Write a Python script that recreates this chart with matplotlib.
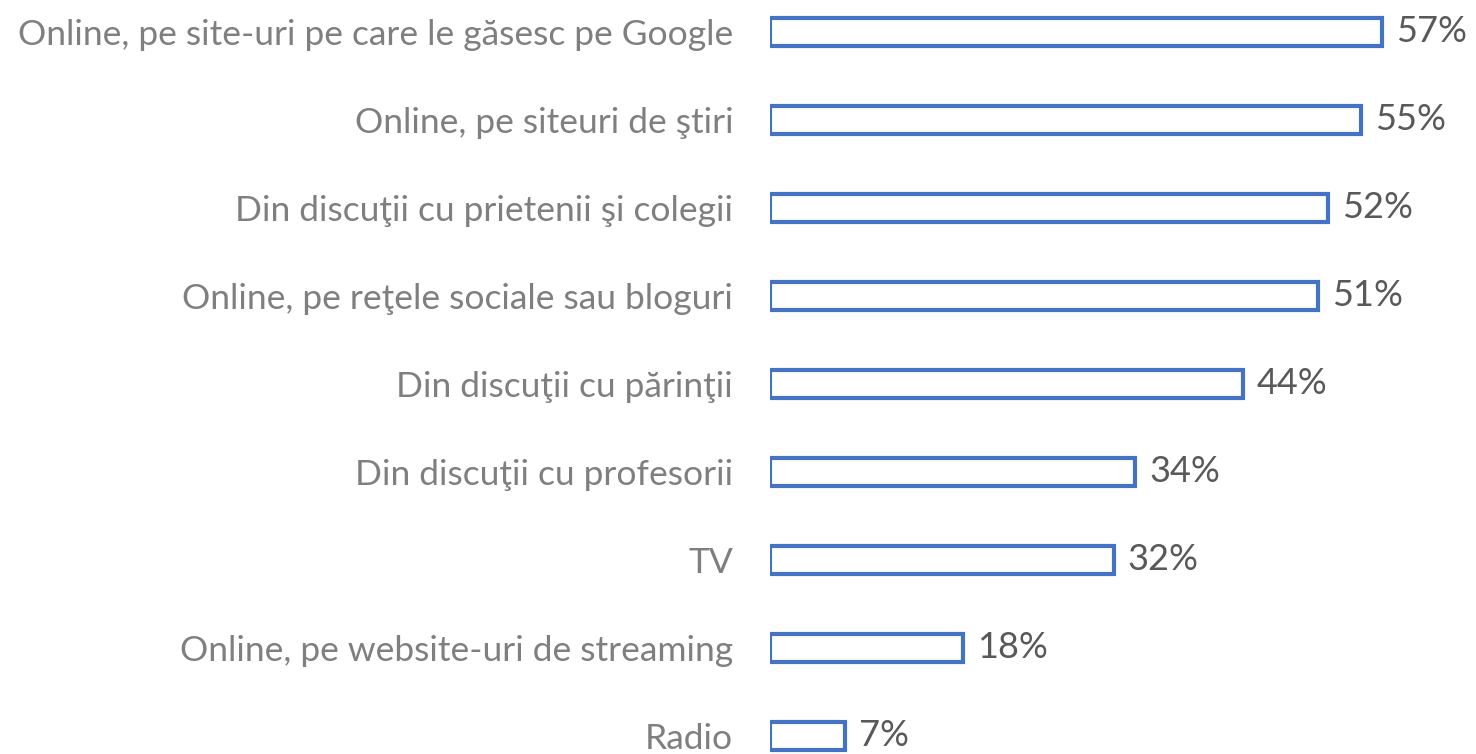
import matplotlib
matplotlib.use("Agg")
import matplotlib.pyplot as plt
from matplotlib.transforms import offset_copy

categories = [
    "Online, pe site-uri pe care le găsesc pe Google",
    "Online, pe siteuri de ştiri",
    "Din discuţii cu prietenii şi colegii",
    "Online, pe reţele sociale sau bloguri",
    "Din discuţii cu părinţii",
    "Din discuţii cu profesorii",
    "TV",
    "Online, pe website-uri de streaming",
    "Radio",
]
values = [57, 55, 52, 51, 44, 34, 32, 18, 7]
value_labels = ["57%", "55%", "52%", "51%", "44%", "34%", "32%", "18%", "7%"]

plt.rcParams['font.family'] = ['Lato', 'DejaVu Sans']

W, H, DPI = 1476, 754, 100
fig = plt.figure(figsize=(W / DPI, H / DPI), dpi=DPI)
ax = fig.add_axes([770 / W, 0, 1 - 770 / W, 1])

ypos = list(range(len(categories)))
ax.barh(ypos, values, height=0.32, facecolor="white", edgecolor="#4472C4",
        linewidth=3.0)

ax.set_xlim(0, 706 / 10.74)
ax.set_ylim(8 + 18 / 88, -32 / 88)

ax.set_yticks(ypos)
ax.set_yticklabels(categories, fontsize=25.5, color="#7F7F7F")
ax.tick_params(axis="y", length=0, pad=26.5)
ax.set_xticks([])
for s in ax.spines.values():
    s.set_visible(False)

for y, v, lab in zip(ypos, values, value_labels):
    tr = offset_copy(ax.transData, fig=fig, x=14, y=0, units="dots")
    ax.text(v, y, lab, transform=tr, fontsize=26, color="#595959",
            va="center", ha="left")

fig.savefig("out.png", dpi=DPI)
